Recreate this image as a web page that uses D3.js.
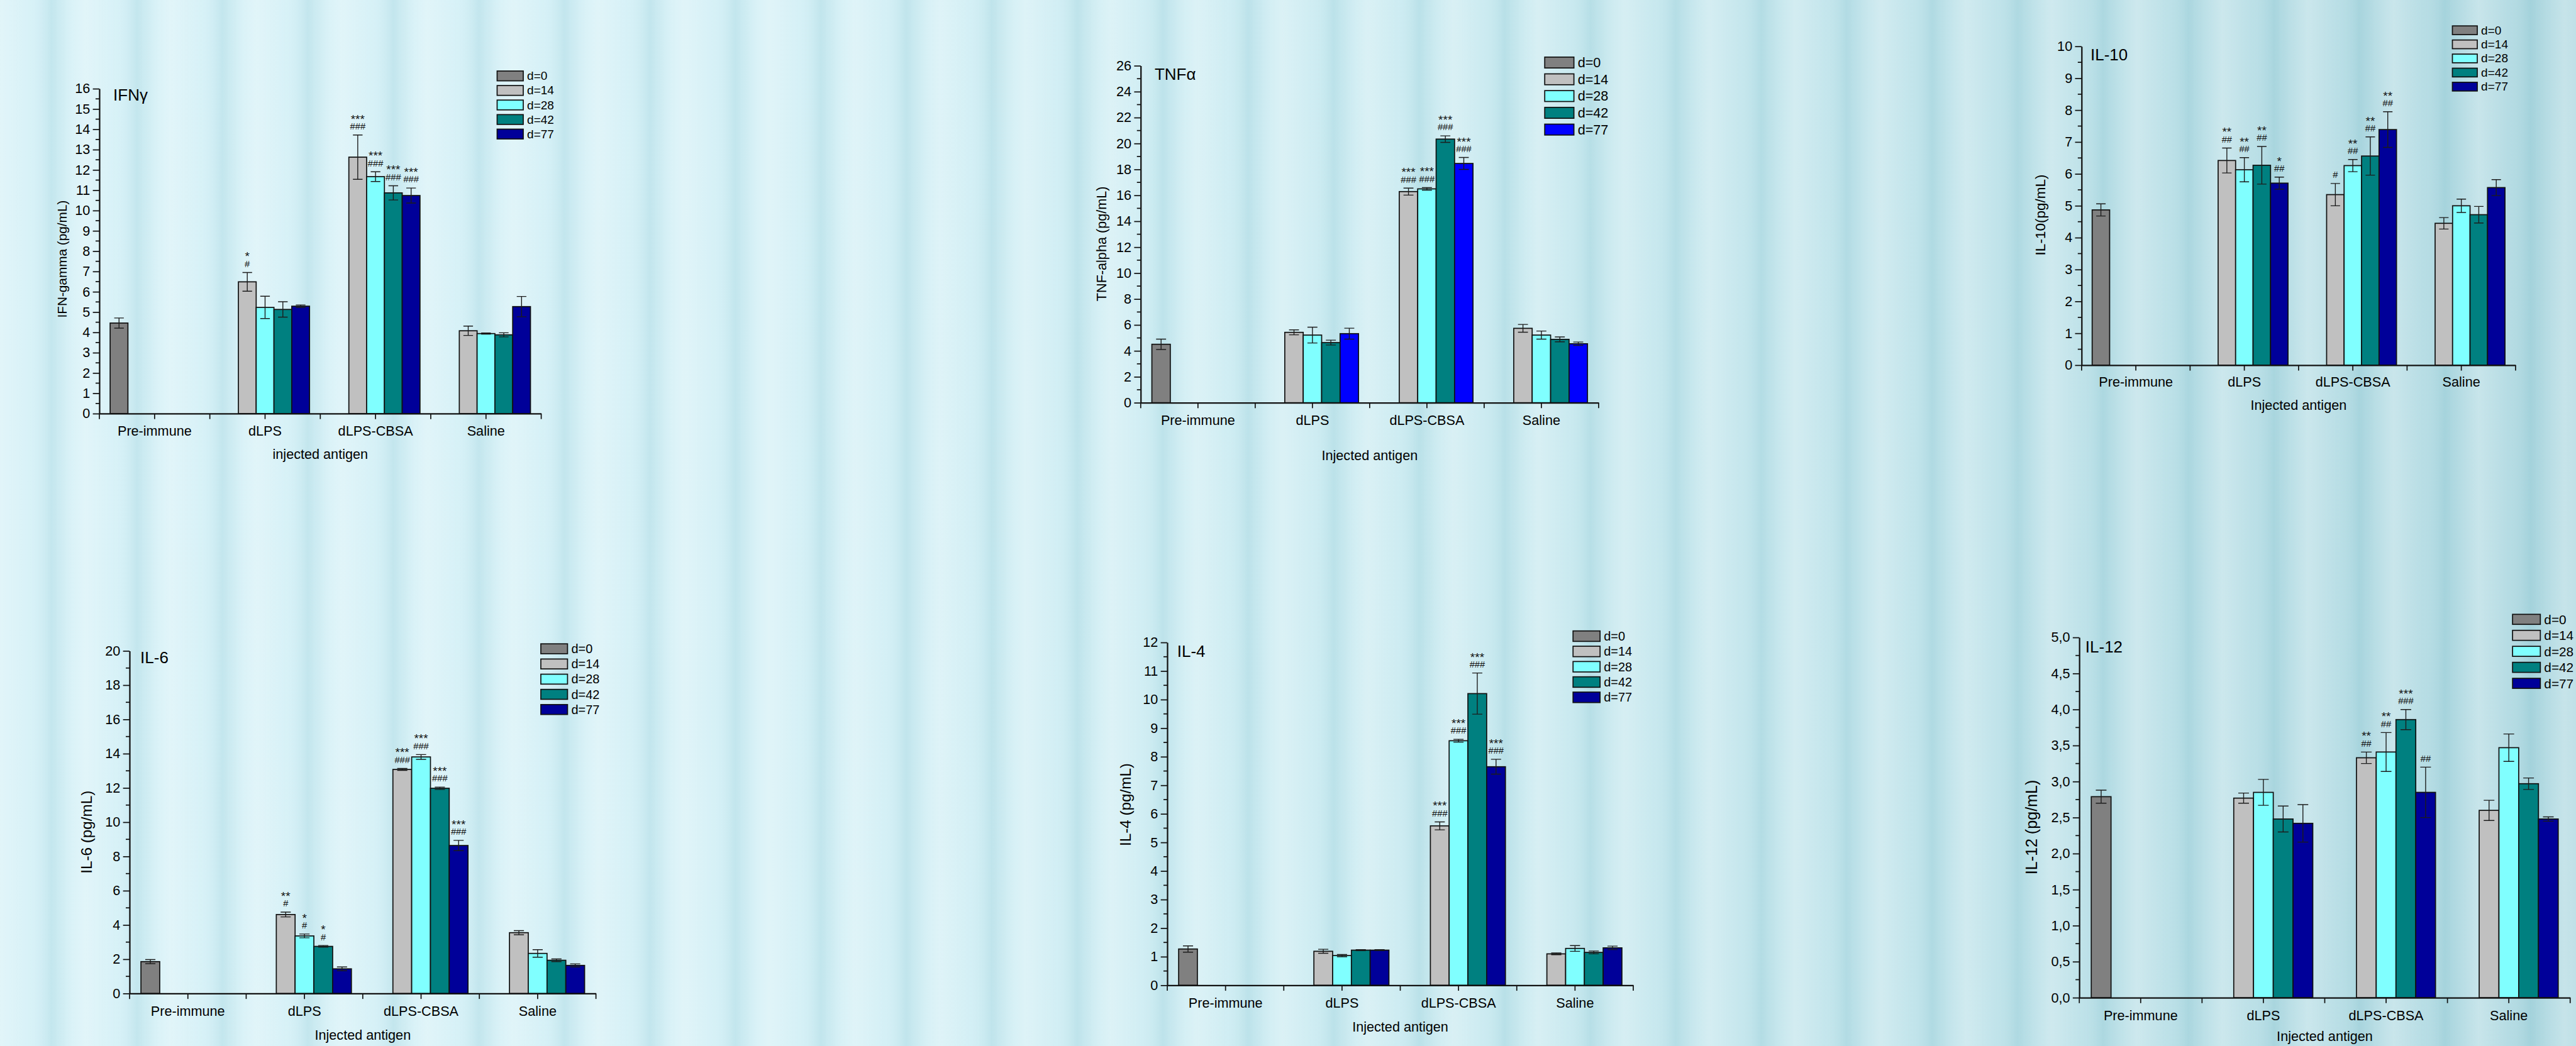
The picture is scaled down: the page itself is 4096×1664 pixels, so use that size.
<!DOCTYPE html>
<html>
<head>
<meta charset="utf-8">
<script src="https://cdn.jsdelivr.net/npm/d3@7"></script>
<style>
  html, body { margin: 0; padding: 0; background: #c9e9ef; overflow: hidden; }
  svg { display: block; font-family: "Liberation Sans", Arial, sans-serif; }
</style>
</head>
<body>
<div id="chart"></div>
<script>
// categories
const groups = ["Pre-immune", "dLPS", "dLPS-CBSA", "Saline"];
const days = ["d=0", "d=14", "d=28", "d=42", "d=77"];

// values, in order: Pre-immune d=0, then d=14, d=28, d=42, d=77 for dLPS, dLPS-CBSA, Saline
const ifnMean = [4.46, 6.49, 5.23, 5.13, 5.29, 12.63, 11.67, 10.87, 10.74, 4.08, 3.94, 3.88, 5.27];
const ifnErr = [0.25, 0.46, 0.55, 0.38, 0.06, 1.09, 0.24, 0.35, 0.37, 0.23, 0.03, 0.1, 0.5];
const ifnStars = ["", "*", "", "", "", "***", "***", "***", "***", "", "", "", ""];
const ifnHash = ["", "#", "", "", "", "###", "###", "###", "###", "", "", "", ""];

const tnfMean = [4.51, 5.43, 5.22, 4.64, 5.33, 16.29, 16.5, 20.34, 18.46, 5.74, 5.22, 4.89, 4.55];
const tnfErr = [0.4, 0.19, 0.61, 0.19, 0.42, 0.27, 0.1, 0.25, 0.46, 0.3, 0.31, 0.19, 0.13];
const tnfStars = ["", "", "", "", "", "***", "***", "***", "***", "", "", "", ""];
const tnfHash = ["", "", "", "", "", "###", "###", "###", "###", "", "", "", ""];

const il10Mean = [4.87, 6.42, 6.13, 6.27, 5.71, 5.35, 6.26, 6.56, 7.39, 4.45, 5.0, 4.72, 5.57];
const il10Err = [0.19, 0.39, 0.38, 0.59, 0.19, 0.35, 0.19, 0.6, 0.56, 0.18, 0.21, 0.26, 0.25];
const il10Stars = ["", "**", "**", "**", "*", "", "**", "**", "**", "", "", "", ""];
const il10Hash = ["", "##", "##", "##", "##", "#", "##", "##", "##", "", "", "", ""];

const il6Mean = [1.86, 4.61, 3.36, 2.75, 1.44, 13.08, 13.81, 11.98, 8.64, 3.55, 2.34, 1.94, 1.64];
const il6Err = [0.12, 0.14, 0.11, 0.05, 0.11, 0.06, 0.14, 0.07, 0.3, 0.12, 0.22, 0.08, 0.09];
const il6Stars = ["", "**", "*", "*", "", "***", "***", "***", "***", "", "", "", ""];
const il6Hash = ["", "#", "#", "#", "", "###", "###", "###", "###", "", "", "", ""];

const il4Mean = [1.27, 1.19, 1.04, 1.23, 1.23, 5.58, 8.56, 10.21, 7.65, 1.1, 1.29, 1.15, 1.31];
const il4Err = [0.11, 0.07, 0.04, 0.02, 0.02, 0.14, 0.05, 0.72, 0.26, 0.03, 0.1, 0.05, 0.06];
const il4Stars = ["", "", "", "", "", "***", "***", "***", "***", "", "", "", ""];
const il4Hash = ["", "", "", "", "", "###", "###", "###", "###", "", "", "", ""];

const il12Mean = [2.79, 2.77, 2.85, 2.48, 2.42, 3.33, 3.41, 3.86, 2.85, 2.6, 3.47, 2.97, 2.48];
const il12Err = [0.09, 0.07, 0.18, 0.18, 0.26, 0.08, 0.27, 0.14, 0.35, 0.14, 0.19, 0.08, 0.03];
const il12Stars = ["", "", "", "", "", "**", "**", "***", "", "", "", "", ""];
const il12Hash = ["", "", "", "", "", "##", "##", "###", "##", "", "", "", ""];

const colors = ["#808080", "#c0c0c0", "#80ffff", "#008080", "#000099"];
const colorsTnf = ["#808080", "#c0c0c0", "#80ffff", "#008080", "#0000ff"];

// layout, in reference pixels (the whole drawing is scaled to the window)
const W = 4731, H = 1922;
const panels = [
  { title: "IFNγ", yLabel: "IFN-gamma (pg/mL)", xLabel: "injected antigen",
    mean: ifnMean, err: ifnErr, stars: ifnStars, hash: ifnHash, colors: colors,
    max: 16, step: 1, x0: 182.5, x1: 994, y0: 760, y1: 163,
    titleAt: [208, 184.6], yLabelAt: [113.6, 476, 24], xTitleDy: 83, catDy: 40,
    legend: [913, 130.5, 48, 18, 26.7, 22] },
  { title: "TNFα", yLabel: "TNF-alpha (pg/mL)", xLabel: "Injected antigen",
    mean: tnfMean, err: tnfErr, stars: tnfStars, hash: tnfHash, colors: colorsTnf,
    max: 26, step: 2, x0: 2095, x1: 2936, y0: 740, y1: 120.8,
    titleAt: [2120.6, 147], yLabelAt: [2023.5, 448, 25], xTitleDy: 106, catDy: 40,
    legend: [2837, 104.9, 53.6, 20, 30.8, 25] },
  { title: "IL-10", yLabel: "IL-10(pg/mL)", xLabel: "Injected antigen",
    mean: il10Mean, err: il10Err, stars: il10Stars, hash: il10Hash, colors: colors,
    max: 10, step: 1, x0: 3823, x1: 4620, y0: 671, y1: 85.2,
    titleAt: [3839.4, 111.2], yLabelAt: [3747.6, 395, 26], xTitleDy: 82, catDy: 39,
    legend: [4504, 47.6, 45.7, 16, 25.9, 22] },
  { title: "IL-6", yLabel: "IL-6 (pg/mL)", xLabel: "Injected antigen",
    mean: il6Mean, err: il6Err, stars: il6Stars, hash: il6Hash, colors: colors,
    max: 20, step: 2, x0: 238, x1: 1094.5, y0: 1825.5, y1: 1196,
    titleAt: [257.7, 1219], yLabelAt: [158.7, 1529, 28], xTitleDy: 85, catDy: 41,
    legend: [993.3, 1183, 49, 18.2, 27.9, 23] },
  { title: "IL-4", yLabel: "IL-4 (pg/mL)", xLabel: "Injected antigen",
    mean: il4Mean, err: il4Err, stars: il4Stars, hash: il4Hash, colors: colors,
    max: 12, step: 1, x0: 2143.8, x1: 2999.6, y0: 1810.4, y1: 1180.5,
    titleAt: [2161.9, 1206.8], yLabelAt: [2066.8, 1478.5, 28], xTitleDy: 85, catDy: 41,
    legend: [2889, 1159.3, 49.6, 19.2, 28.1, 23] },
  { title: "IL-12", yLabel: "IL-12 (pg/mL)", xLabel: "Injected antigen",
    mean: il12Mean, err: il12Err, stars: il12Stars, hash: il12Hash, colors: colors,
    max: 5, step: 0.5, comma: true, x0: 3818.8, x1: 4720.3, y0: 1833.2, y1: 1171.3,
    titleAt: [3829.9, 1199], yLabelAt: [3730.4, 1520, 29], xTitleDy: 79, catDy: 41,
    legend: [4614.5, 1128.8, 51, 18.4, 29.4, 24] }
];

const svg = d3.select("#chart").append("svg")
  .attr("width", 4096)
  .attr("height", 1664)
  .attr("viewBox", [0, 0, 4096, 1664]);

const defs = svg.append("defs");

// curtain-like background: soft cyan with vertical stripes
const bg = defs.append("linearGradient").attr("id", "bg-grad")
  .attr("x1", "0%").attr("x2", "100%").attr("y1", "0%").attr("y2", "0%");
[["0%", "#d6f1f7"], ["30%", "#d4f0f6"], ["55%", "#cbebf1"], ["75%", "#bfe3ea"], ["100%", "#b0d9e1"]]
  .forEach(([o, c]) => bg.append("stop").attr("offset", o).attr("stop-color", c));

const stripe = defs.append("linearGradient").attr("id", "stripe-grad")
  .attr("x1", "0%").attr("x2", "100%").attr("y1", "0%").attr("y2", "0%");
[["0%", "#ffffff", 0.28], ["35%", "#ffffff", 0.05], ["60%", "#4a9fb0", 0.13], ["85%", "#ffffff", 0.12], ["100%", "#ffffff", 0.28]]
  .forEach(([o, c, a]) => stripe.append("stop").attr("offset", o).attr("stop-color", c).attr("stop-opacity", a));

defs.append("pattern").attr("id", "stripes")
  .attr("patternUnits", "userSpaceOnUse")
  .attr("width", 157).attr("height", H)
  .append("rect").attr("width", 157).attr("height", H).attr("fill", "url(#stripe-grad)");

const root = svg.append("g").attr("transform", `scale(${4096 / W})`);
root.append("rect").attr("width", W).attr("height", H).attr("fill", "url(#bg-grad)");
root.append("rect").attr("width", W).attr("height", H).attr("fill", "url(#stripes)");

panels.forEach(p => drawPanel(root.append("g"), p));

function drawPanel(g, p) {
  const x = d3.scaleBand().domain(groups).range([p.x0, p.x1]).padding(0);
  const xs = d3.scaleBand().domain(days).range([0, x.bandwidth()]).paddingInner(0).paddingOuter(0.605);
  const y = d3.scaleLinear().domain([0, p.max]).range([p.y0, p.y1]);

  // flatten to rows
  const rows = p.mean.map((v, i) => {
    const gi = i === 0 ? 0 : 1 + Math.floor((i - 1) / 4);
    const si = i === 0 ? 0 : 1 + ((i - 1) % 4);
    return { group: groups[gi], day: days[si], si, v, e: p.err[i], stars: p.stars[i], hash: p.hash[i] };
  });

  const bx = d => x(d.group) + xs(d.day);
  const bw = xs.bandwidth();

  // bars
  g.append("g").selectAll("rect").data(rows).join("rect")
    .attr("x", bx)
    .attr("y", d => y(d.v))
    .attr("width", bw)
    .attr("height", d => y(0) - y(d.v))
    .attr("fill", d => p.colors[d.si])
    .attr("stroke", "#111")
    .attr("stroke-width", 2);

  // error bars
  const eb = g.append("g").attr("stroke", "#1c1c1c").attr("stroke-width", 1.6).attr("fill", "none");
  eb.selectAll("path").data(rows).join("path")
    .attr("d", d => {
      const cx = bx(d) + bw / 2, c = bw * 0.27;
      const t = y(d.v + d.e), b = y(d.v - d.e);
      return `M${cx},${t}V${b}M${cx - c},${t}H${cx + c}M${cx - c},${b}H${cx + c}`;
    });

  // significance marks
  const ann = g.append("g").attr("text-anchor", "middle").attr("fill", "#111");
  ann.selectAll("text.hash").data(rows.filter(d => d.hash)).join("text")
    .attr("class", "hash")
    .attr("x", d => bx(d) + bw / 2)
    .attr("y", d => y(d.v + d.e) - 10)
    .attr("font-size", 17)
    .text(d => d.hash);
  ann.selectAll("text.star").data(rows.filter(d => d.stars)).join("text")
    .attr("class", "star")
    .attr("x", d => bx(d) + bw / 2)
    .attr("y", d => y(d.v + d.e) - (d.hash ? 22 : 10))
    .attr("font-size", 22)
    .text(d => d.stars);

  // y axis
  const major = d3.range(0, p.max + p.step / 2, p.step);
  const minor = d3.range(p.step / 2, p.max, p.step);
  const fmt = p.comma ? (v => d3.format(".1f")(v).replace(".", ",")) : d3.format("d");
  const ya = g.append("g")
    .attr("transform", `translate(${p.x0},0)`)
    .call(d3.axisLeft(y).tickValues(major).tickFormat(fmt).tickSize(12).tickSizeOuter(0).tickPadding(5));
  ya.append("g").selectAll("line").data(minor).join("line")
    .attr("x1", -7).attr("x2", 0)
    .attr("y1", d => y(d)).attr("y2", d => y(d))
    .attr("stroke", "#111").attr("stroke-width", 2);

  // x axis
  const xa = g.append("g")
    .attr("transform", `translate(0,${p.y0})`)
    .call(d3.axisBottom(x).tickSize(10).tickSizeOuter(0).tickPadding(p.catDy - 10 - 17.5));
  xa.append("g").selectAll("line").data(groups.map(gr => x(gr)).concat([p.x1])).join("line")
    .attr("x1", d => d).attr("x2", d => d)
    .attr("y1", 0).attr("y2", 10)
    .attr("stroke", "#111").attr("stroke-width", 2);

  [ya, xa].forEach(a => {
    a.attr("font-family", null).attr("font-size", null);
    a.select(".domain").attr("stroke", "#111").attr("stroke-width", 2.6);
    a.selectAll(".tick line").attr("stroke", "#111").attr("stroke-width", 2);
    a.selectAll(".tick text").attr("fill", "#000").attr("font-size", 25);
  });

  // titles and labels
  g.append("text")
    .attr("x", p.titleAt[0]).attr("y", p.titleAt[1])
    .attr("font-size", 30)
    .text(p.title);

  g.append("text")
    .attr("transform", `translate(${p.yLabelAt[0]},${p.yLabelAt[1]}) rotate(-90)`)
    .attr("text-anchor", "middle")
    .attr("dominant-baseline", "central")
    .attr("font-size", p.yLabelAt[2])
    .text(p.yLabel);

  g.append("text")
    .attr("x", (p.x0 + p.x1) / 2).attr("y", p.y0 + p.xTitleDy)
    .attr("text-anchor", "middle")
    .attr("font-size", 25)
    .text(p.xLabel);

  // legend
  const [lx, ly, lw, lh, lstep, lfs] = p.legend;
  const leg = g.append("g").selectAll("g").data(days).join("g")
    .attr("transform", (d, i) => `translate(${lx},${ly + i * lstep})`);
  leg.append("rect")
    .attr("width", lw).attr("height", lh)
    .attr("fill", (d, i) => p.colors[i])
    .attr("stroke", "#111").attr("stroke-width", 2);
  leg.append("text")
    .attr("x", lw + 7).attr("y", lh / 2)
    .attr("dominant-baseline", "central")
    .attr("font-size", lfs)
    .text(d => d);
}
</script>
</body>
</html>
